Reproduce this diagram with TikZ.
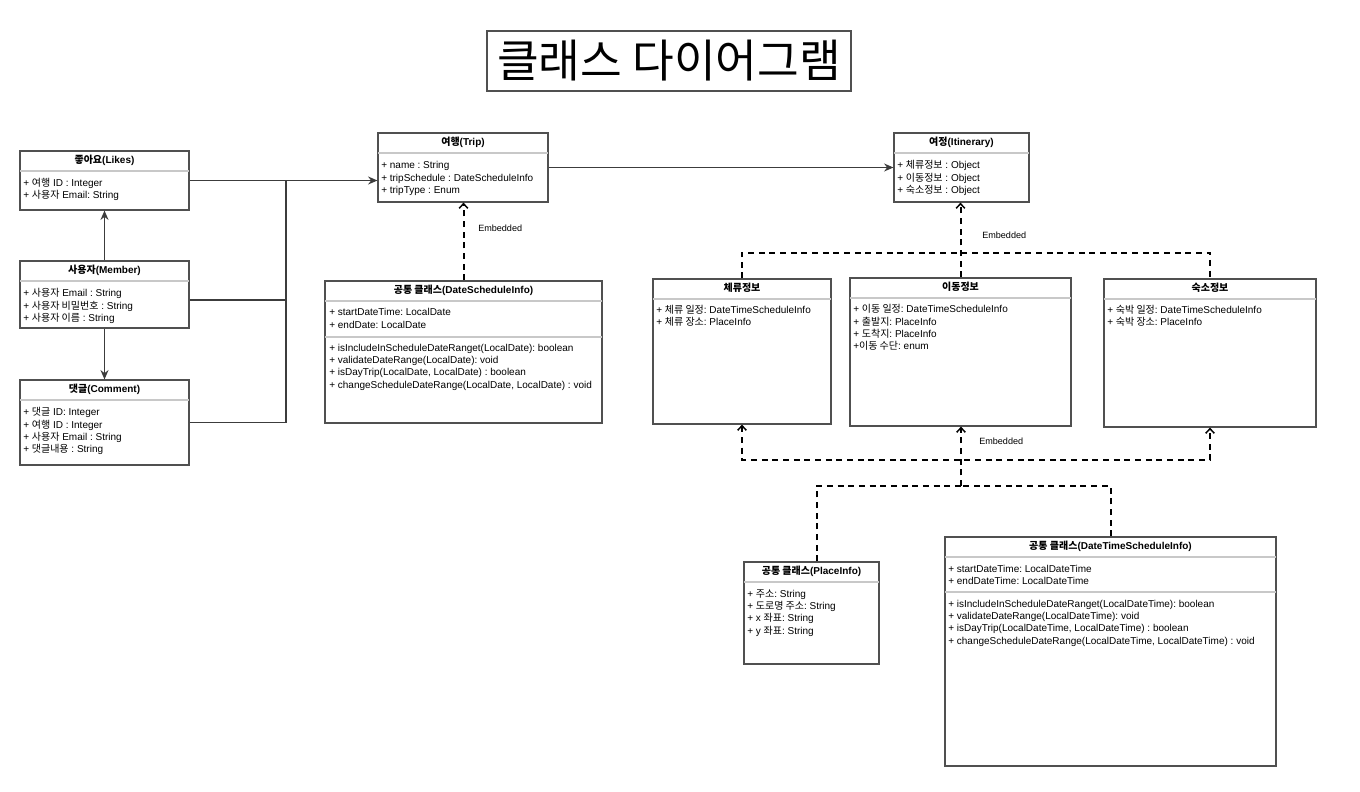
\documentclass[tikz,border=0pt]{standalone}
\usepackage{fontspec}
\setmainfont{Liberation Sans}
\newfontfamily\krfont{Noto Sans CJK KR}
\usepackage{tikz}
\usetikzlibrary{arrows.meta, positioning, fit, calc}
\definecolor{BoxGray} {RGB}{ 80,  80,  80}
\definecolor{SepGray} {RGB}{200, 200, 200}
\definecolor{LineGray}{RGB}{ 60,  60,  60}
\frenchspacing

\newcommand{\hangul}[1]{{\krfont #1}}
% class frame with title row and first separator
\newcommand{\umlclass}[6]{%
  \node[classframe, fit={(#2,#3) (#4,#5)}] (#1) {};
  \node[classtitle] (#1-title) at ({(#2+#4)/2}, #3+9.5) {#6};
  \draw[classsep] (#2,#3+20) -- (#4,#3+20);}
% one text row per entry
\newcommand{\umlrows}[4]{%
  \foreach \entry [count=\i] in {#4}
    \node[attr] (#1-\i) at (#2, {#3+12.3*(\i-1)}) {\entry};}

\begin{document}
\begin{tikzpicture}[x=0.75pt, y=-0.75pt,
    classframe/.style={draw=BoxGray, line width=0.9pt, inner sep=0pt, fill=white},
    classtitle/.style={font=\bfseries\fontsize{7.5}{9}\selectfont, inner sep=0pt,
                       text height=6pt, text depth=1.8pt},
    classsep/.style={draw=SepGray, line width=1.1pt},
    attr/.style={anchor=west, inner sep=0pt, font=\fontsize{7.5}{9}\selectfont,
                 text height=6pt, text depth=1.8pt},
    link/.style={draw=LineGray, line width=0.8pt},
    assoc/.style={link, -{Stealth[length=7pt, width=6pt]}},
    embed/.style={draw=black, line width=1.5pt, dash pattern=on 4.5pt off 3.5pt},
    embedtip/.style={-{Straight Barb[length=3.5pt, width=6.5pt, line width=1.1pt]}},
    embedboth/.style={{Straight Barb[length=3.5pt, width=6.5pt, line width=1.1pt]}-{Straight Barb[length=3.5pt, width=6.5pt, line width=1.1pt]}},
    embedlabel/.style={anchor=west, inner sep=0pt, font=\fontsize{6.8}{8}\selectfont}]

  \fill[white] (0,0) rectangle (1360,792);
  \useasboundingbox (0,0) rectangle (1360,792);

  % title
  \node[draw=BoxGray, line width=0.8pt, inner sep=0pt, fit={(487,31) (851,91)}] (titlebox) {};
  \node[font=\krfont\fontsize{34}{40}\selectfont] (title) at (titlebox.center) {클래스 다이어그램};

  % left column
  \umlclass{likes}{20}{151}{189}{210}{\hangul{좋아요}(Likes)}
  \umlrows{likes-a}{23}{183.5}{{+ \hangul{여행} ID : Integer}, {+ \hangul{사용자} Email: String}}

  \umlclass{member}{20}{261}{189}{328}{\hangul{사용자}(Member)}
  \umlrows{member-a}{23}{294}{{+ \hangul{사용자} Email : String}, {+ \hangul{사용자 비밀번호} : String},
                             {+ \hangul{사용자 이름} : String}}

  \umlclass{comment}{20}{380}{189}{465}{\hangul{댓글}(Comment)}
  \umlrows{comment-a}{23}{413}{{+ \hangul{댓글} ID: Integer}, {+ \hangul{여행} ID : Integer},
                              {+ \hangul{사용자} Email : String}, {+ \hangul{댓글내용} : String}}

  % trip
  \umlclass{trip}{378}{133}{548}{202}{\hangul{여행}(Trip)}
  \umlrows{trip-a}{381}{166}{{+ name : String}, {+ tripSchedule : DateScheduleInfo}, {+ tripType : Enum}}

  \umlclass{dsi}{325}{281}{602}{423}{\hangul{공통 클래스}(DateScheduleInfo)}
  \umlrows{dsi-a}{329}{313}{{+ startDateTime: LocalDate}, {+ endDate: LocalDate}}
  \draw[classsep] (325,337) -- (602,337);
  \umlrows{dsi-m}{329}{348.5}{{+ isIncludeInScheduleDateRanget(LocalDate): boolean},
                             {+ validateDateRange(LocalDate): void},
                             {+ isDayTrip(LocalDate, LocalDate) : boolean},
                             {+ changeScheduleDateRange(LocalDate, LocalDate) : void}}

  % itinerary
  \umlclass{itin}{894}{133}{1029}{202}{\hangul{여정}(Itinerary)}
  \umlrows{itin-a}{897}{166}{{+ \hangul{체류정보} : Object}, {+ \hangul{이동정보} : Object},
                            {+ \hangul{숙소정보} : Object}}

  \umlclass{stay}{653}{279}{831}{424}{\hangul{체류정보}}
  \umlrows{stay-a}{656}{310.5}{{+ \hangul{체류 일정}: DateTimeScheduleInfo}, {+ \hangul{체류 장소}: PlaceInfo}}

  \umlclass{move}{850}{278}{1071}{426}{\hangul{이동정보}}
  \umlrows{move-a}{853}{310}{{+ \hangul{이동 일정}: DateTimeScheduleInfo}, {+ \hangul{출발지}: PlaceInfo},
                            {+ \hangul{도착지}: PlaceInfo}, {+\hangul{이동 수단}: enum}}

  \umlclass{lodge}{1104}{279}{1316}{427}{\hangul{숙소정보}}
  \umlrows{lodge-a}{1107}{310.5}{{+ \hangul{숙박 일정}: DateTimeScheduleInfo}, {+ \hangul{숙박 장소}: PlaceInfo}}

  % common classes
  \umlclass{pinfo}{744}{562}{879}{664}{\hangul{공통 클래스}(PlaceInfo)}
  \umlrows{pinfo-a}{747}{594.5}{{+ \hangul{주소}: String}, {+ \hangul{도로명 주소}: String},
                               {+ x \hangul{좌표}: String}, {+ y \hangul{좌표}: String}}

  \umlclass{dtsi}{945}{537}{1276}{766}{\hangul{공통 클래스}(DateTimeScheduleInfo)}
  \umlrows{dtsi-a}{948}{569.5}{{+ startDateTime: LocalDateTime}, {+ endDateTime: LocalDateTime}}
  \draw[classsep] (945,592) -- (1276,592);
  \umlrows{dtsi-m}{948}{604.5}{{+ isIncludeInScheduleDateRanget(LocalDateTime): boolean},
                              {+ validateDateRange(LocalDateTime): void},
                              {+ isDayTrip(LocalDateTime, LocalDateTime) : boolean},
                              {+ changeScheduleDateRange(LocalDateTime, LocalDateTime) : void}}

  % associations
  \draw[assoc] (member) -- (likes);
  \draw[assoc] (member) -- (comment);
  \coordinate (bus) at (286,180.5);
  \draw[assoc] (likes.east) -- (likes.east -| trip.west);
  \draw[link] ($(member.east)+(0,5.5)$) -| (bus);
  \draw[link] (comment.east) -| (bus);
  \draw[assoc] (trip.east) -- (trip.east -| itin.west);

  % embedded
  \draw[embed, embedtip] (dsi.north) -- (dsi.north |- trip.south);
  \node[embedlabel] (emb-trip) at (478,228) {Embedded};

  \coordinate (jtop) at (961,252.5);
  \draw[embed, embedtip] (move.north) -- (move.north |- itin.south);
  \draw[embed] (stay.north) |- (jtop) -| (lodge.north);
  \node[embedlabel] (emb-itin) at (982,235) {Embedded};

  \coordinate (jlow) at (961,460);
  \coordinate (jcommon) at (961,486);
  \draw[embed, embedboth] (stay.south) |- (jlow) -| (lodge.south);
  \draw[embed] ($(pinfo.north)+(5.5,0)$) |- (jcommon);
  \draw[embed] (dtsi.north) |- (jcommon);
  \draw[embed, embedtip] (jcommon) -- (jcommon |- move.south);
  \node[embedlabel] (emb-move) at (979,441) {Embedded};
\end{tikzpicture}
\end{document}
